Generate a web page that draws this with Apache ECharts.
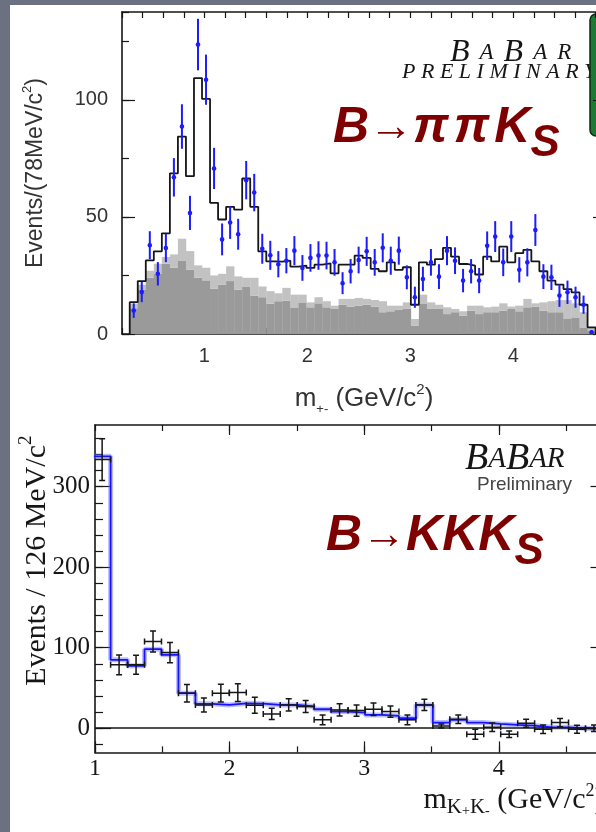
<!DOCTYPE html>
<html>
<head>
<meta charset="utf-8">
<script src="https://cdn.jsdelivr.net/npm/echarts@6/dist/echarts.min.js"></script>
<style>
  html, body { margin: 0; padding: 0; width: 596px; height: 832px; overflow: hidden; background: #6b7181; }
  #sheet { position: absolute; left: 10px; top: 5px; width: 600px; height: 840px; background: #ffffff; }
  /* drawing surface is a bit wider than the window so the frames can run past the right edge */
  #chart { position: absolute; left: 0; top: 0; width: 640px; height: 832px; }
</style>
</head>
<body>
<div id="sheet"></div>
<div id="chart"></div>
<script>
// ---------- B -> pi pi Ks : m(+-) spectrum, 78 MeV bins ----------
const pipiFirstEdge = 0.275;   // GeV/c^2
const pipiBinWidth = 0.078;    // GeV/c^2
// total fit (black histogram)
const pipiFit = [13.6,22.6,31.4,35.3,43,68.6,84.3,67.4,109.3,100.4,56,48.9,54.3,53.1,66.4,54.3,35.3,31,30.9,31.3,
  28.8,29.2,28.2,29.6,30.2,25.9,29.6,29.6,33.5,32.5,27.8,26.8,30.6,27.4,28.5,12.5,30.6,29.6,32,36.8,
  33,29.9,29.2,25.4,33,31,37.3,30.6,34.5,35.9,31,26.8,22.8,21.1,19.2,17.8,12.5,2.8];
// data points and their errors (blue)
const pipiData = [10,17.9,37.9,25.7,36.7,66.9,88.6,51.7,123.6,108.6,70.7,40.4,47.6,42.6,65.7,60.4,36.4,33.6,29.8,31.3,
  35.6,28.2,32.5,33.5,33.5,30.6,21.7,26.8,31.6,35.3,30.6,36.8,31.3,35.6,24.2,15.7,23.5,30.6,24.5,35.6,
  31.3,22.8,26.8,22.8,37.7,41.6,30.6,41.6,27.4,30.6,44.4,24.5,24.2,16.4,17.8,15.7,12.5,0.7];
const pipiErr = [3.1,4.3,6,5,6,8.2,9.5,7.3,11,10.7,8.8,6.8,7,6.6,8.2,8,6.4,6.2,5.6,5.4,
  6.2,5.5,5.9,6.1,5.9,5.7,4.7,5.2,5.7,6.2,5.7,6.2,6,6,5.1,4.5,5.2,5.7,5.3,6.2,
  5.7,5,5.2,5.4,6.1,6.6,5.9,6.6,5.4,6,6.8,5.3,5.4,4.8,5,4.5,3.9,1];
// background components: continuum (dark) and continuum + B background (light, stacked total)
const pipiContinuum = [11,19,24,25.7,30,28.3,31.4,27.4,24,22.9,19.3,21.1,22.6,18.9,20.3,16.4,15.7,12.9,14,14.2,
  11.1,13.5,11.4,13.1,11.4,10.7,12.5,11.7,12.1,12.5,11.7,9.3,9.7,10.3,10.7,3.6,12.8,10.7,10.7,8.5,
  9.3,7.8,10,8.5,9.3,9.3,10,10.7,9.7,11.4,11.7,10,9.3,9.3,6.4,7.1,2.8,1.5];
const pipiBkgTotal = [13,21,27,30,32.9,34,40.7,35.4,29.3,28.3,25,25.7,28.9,24.6,24,24,20.3,18.3,17.4,19.7,
  16.8,16.8,13.5,15.7,14,12.1,15,15,15.4,15,14.5,14,12.1,12.1,13.5,6.4,16.8,13.5,12.5,11.4,
  10.7,9.7,12.1,12.1,11.4,11.7,13.1,11.7,12.1,15,13.1,13.5,14,14.5,14.5,13.1,9.3,2.8];
const pipiXLabels = [1, 2, 3, 4];
const pipiXMajorTicks = [1, 2, 3, 4];
const pipiYLabels = [0, 50, 100];
const pipiYMajorTicks = [0, 50, 100];

// ---------- B -> K K Ks : m(K+K-) spectrum, 126 MeV bins ----------
const kkFirstEdge = 0.99;
const kkBinWidth = 0.126;
const kkFit = [337.7,85,77.5,98.2,91.2,43.5,30.3,29,31,30.5,29,29,27,23.6,20.7,19.5,16.6,15.3,12.4,29,
  7,10.4,7,5.4,4.1,3.3,1.2,1.2,0,-1];
const kkData = [333.6,78.7,78.7,107.7,94,43.5,29,43.5,44.3,28.5,17.8,29,27,10.4,22.8,22,23.6,20.7,10.4,29,
  2.9,11.2,-7.5,1.2,-7.5,6.2,-1.2,7,-1.2,0];
const kkErr = [26,12.4,11.8,13,12.6,10.8,8.7,11,11,10,7,7.7,7.3,6,7.5,7,7.7,7,6,7,
  2.5,5.2,6.2,5.2,4.1,5,5.2,5.2,5,4];
const kkXLabels = [1, 2, 3, 4];
const kkXMajorTicks = [1, 2, 3, 4];
const kkXTopMajorTicks = [2, 3, 4];
const kkYLabels = [0, 100, 200, 300];
const kkYMajorTicks = [0, 100, 200, 300];
const kkYMinorTicks = [-20,0,20,40,60,80,100,120,140,160,180,200,220,240,260,280,300,320,340,360];

const SANS = 'Liberation Sans, Arial, sans-serif';
const SERIF = 'Liberation Serif, Times New Roman, serif';
const INK = '#161616';

// ---------- derived drawing data ----------
function stepPath(firstEdge, width, values, closeToZero) {
  const pts = [];
  if (closeToZero) pts.push([firstEdge, 0]);
  values.forEach((v, k) => pts.push([firstEdge + k * width, v]));
  const last = firstEdge + values.length * width;
  pts.push([last, closeToZero ? 0 : values[values.length - 1]]);
  return pts;
}
const pipiHist = stepPath(pipiFirstEdge, pipiBinWidth, pipiFit, true);
const pipiBkg = pipiContinuum.map((g, k) => [pipiFirstEdge + k * pipiBinWidth, g, pipiBkgTotal[k]]);
const pipiPoints = pipiData.map((v, k) => [pipiFirstEdge + (k + 0.5) * pipiBinWidth, v, pipiErr[k]]);
const kkLine = stepPath(kkFirstEdge, kkBinWidth, kkFit, false);
const kkPoints = kkData.map((v, k) => [kkFirstEdge + (k + 0.5) * kkBinWidth, v, kkErr[k]]);

// ---------- axes ----------
const frameLine = { show: true, onZero: false, lineStyle: { color: INK, width: 1.6 } };
function axis(gridIndex, position, min, max, cfg) {
  return Object.assign({
    type: 'value', gridIndex, position, min, max,
    splitLine: { show: false },
    axisLine: { show: false, onZero: false },
    axisTick: { show: false },
    axisLabel: { show: false },
    nameMoveOverlap: false
  }, cfg);
}
function ticks(length, extra) {
  return Object.assign({ show: true, inside: true, length, lineStyle: { color: INK, width: 1.2 } }, extra || {});
}

const xAxes = [
  // top panel
  axis(0, 'bottom', 0.2, 4.9, {
    interval: 0.2, axisLine: frameLine, axisTick: ticks(6),
    axisLabel: { show: true, customValues: pipiXLabels, fontFamily: SANS, fontSize: 20, color: '#333', margin: 12 },
    name: '{a|m}{s|+-}{a| (GeV/c}{p|2}{a|)}', nameLocation: 'middle', nameGap: 48,
    nameTextStyle: {
      fontFamily: SANS, fontSize: 26, color: '#333',
      rich: {
        a: { fontFamily: SANS, fontSize: 26, color: '#333', lineHeight: 34, verticalAlign: 'middle' },
        s: { fontFamily: SANS, fontSize: 13, color: '#333', lineHeight: 12, verticalAlign: 'bottom' },
        p: { fontFamily: SANS, fontSize: 15, color: '#333', lineHeight: 14, verticalAlign: 'top' }
      }
    }
  }),
  axis(0, 'bottom', 0.2, 4.9, { axisTick: ticks(11, { customValues: pipiXMajorTicks }) }),
  axis(0, 'top', 0.2, 4.9, { interval: 0.2, axisLine: frameLine, axisTick: ticks(6) }),
  // bottom panel
  axis(1, 'bottom', 1, 4.8, {
    interval: 0.5, axisLine: frameLine, axisTick: ticks(6),
    axisLabel: { show: true, customValues: kkXLabels, fontFamily: SERIF, fontSize: 24, color: INK, margin: 4 },
    name: '{a|m}{s|K}{t|+}{s|K}{t|-}{a| (GeV/c}{p|2}{a|)}', nameLocation: 'end', nameGap: -2,
    nameTextStyle: {
      fontFamily: SERIF, fontSize: 30, color: INK, align: 'right', verticalAlign: 'top', padding: [30, 0, 0, 0],
      rich: {
        a: { fontFamily: SERIF, fontSize: 30, color: INK, lineHeight: 36, verticalAlign: 'middle' },
        s: { fontFamily: SERIF, fontSize: 21, color: INK, lineHeight: 16, verticalAlign: 'bottom' },
        t: { fontFamily: SERIF, fontSize: 14, color: INK, lineHeight: 26, verticalAlign: 'bottom' },
        p: { fontFamily: SERIF, fontSize: 18, color: INK, lineHeight: 16, verticalAlign: 'top' }
      }
    }
  }),
  axis(1, 'bottom', 1, 4.8, { axisTick: ticks(11, { customValues: kkXMajorTicks }) }),
  axis(1, 'top', 1, 4.8, { interval: 0.5, axisLine: frameLine, axisTick: ticks(6) }),
  axis(1, 'top', 1, 4.8, { axisTick: ticks(10, { customValues: kkXTopMajorTicks }) })
];

const yAxes = [
  // top panel
  axis(0, 'left', 0, 137.5, {
    interval: 25, axisLine: frameLine, axisTick: ticks(7),
    axisLabel: { show: true, customValues: pipiYLabels, fontFamily: SANS, fontSize: 20, color: '#333', margin: 14 },
    name: '{a|Events/(78MeV/c}{p|2}{a|)}', nameLocation: 'middle', nameGap: 71,
    nameTextStyle: {
      fontFamily: SANS, fontSize: 23, color: '#333',
      rich: {
        a: { fontFamily: SANS, fontSize: 23, color: '#333', lineHeight: 30, verticalAlign: 'middle' },
        p: { fontFamily: SANS, fontSize: 13, color: '#333', lineHeight: 13, verticalAlign: 'top' }
      }
    }
  }),
  axis(0, 'left', 0, 137.5, { axisTick: ticks(13, { customValues: pipiYMajorTicks }) }),
  axis(0, 'right', 0, 137.5, { interval: 25, axisLine: frameLine, axisTick: ticks(7) }),
  axis(0, 'right', 0, 137.5, { axisTick: ticks(13, { customValues: pipiYMajorTicks }) }),
  // bottom panel
  axis(1, 'left', -30, 376.6, {
    axisLine: frameLine, axisTick: ticks(8, { customValues: kkYMinorTicks }),
    axisLabel: { show: true, customValues: kkYLabels, fontFamily: SERIF, fontSize: 25, color: INK, margin: 5, padding: [10, 0, 0, 0] },
    name: '{a|Events / 126 MeV/c}{p|2}', nameLocation: 'middle', nameGap: 38,
    nameTextStyle: {
      fontFamily: SERIF, fontSize: 30, color: INK, padding: [0, 0, 0, 56],
      rich: {
        a: { fontFamily: SERIF, fontSize: 30, color: INK, lineHeight: 40, verticalAlign: 'middle' },
        p: { fontFamily: SERIF, fontSize: 19, color: INK, lineHeight: 22, verticalAlign: 'top' }
      }
    }
  }),
  axis(1, 'left', -30, 376.6, { axisTick: ticks(16, { customValues: kkYMajorTicks }) }),
  axis(1, 'right', -30, 376.6, { axisLine: frameLine, axisTick: ticks(8, { customValues: kkYMinorTicks }) }),
  axis(1, 'right', -30, 376.6, { axisTick: ticks(16, { customValues: kkYMajorTicks }) })
];

// ---------- custom renderers ----------
function renderBkg(params, api) {
  const lo = api.value(0), hi = lo + pipiBinWidth;
  const base = api.coord([lo, 0]);
  const cont = api.coord([hi, api.value(1)]);
  const tot = api.coord([hi, api.value(2)]);
  const w = cont[0] - base[0];
  return {
    type: 'group',
    children: [
      { type: 'rect', shape: { x: base[0], y: cont[1], width: w + 0.3, height: base[1] - cont[1] }, style: { fill: '#9a9a9a' } },
      { type: 'rect', shape: { x: base[0], y: tot[1], width: w + 0.3, height: cont[1] - tot[1] }, style: { fill: '#c2c2c2' } }
    ]
  };
}
function renderBluePoint(params, api) {
  const x = api.value(0), y = api.value(1), e = api.value(2);
  const c = api.coord([x, y]);
  const top = api.coord([x, y + e]);
  const bot = api.coord([x, y - e]);
  const col = '#1c1cff';
  return {
    type: 'group',
    children: [
      { type: 'line', shape: { x1: c[0], y1: top[1], x2: c[0], y2: bot[1] }, style: { stroke: col, lineWidth: 2 } },
      { type: 'circle', shape: { cx: c[0], cy: c[1], r: 2.3 }, style: { fill: col } }
    ]
  };
}
function renderCross(params, api) {
  const x = api.value(0), y = api.value(1), e = api.value(2);
  const hw = kkBinWidth / 2;
  const c = api.coord([x, y]);
  const l = api.coord([x - hw, y]);
  const r = api.coord([x + hw, y]);
  const t = api.coord([x, y + e]);
  const b = api.coord([x, y - e]);
  const cap = 3;
  const st = { stroke: INK, lineWidth: 1.5 };
  const seg = (x1, y1, x2, y2) => ({ type: 'line', shape: { x1, y1, x2, y2 }, style: st });
  return {
    type: 'group',
    children: [
      seg(l[0], c[1], r[0], c[1]),
      seg(c[0], t[1], c[0], b[1]),
      seg(c[0] - cap, t[1], c[0] + cap, t[1]),
      seg(c[0] - cap, b[1], c[0] + cap, b[1]),
      seg(l[0], c[1] - cap, l[0], c[1] + cap),
      seg(r[0], c[1] - cap, r[0], c[1] + cap)
    ]
  };
}

// ---------- chart ----------
const chart = echarts.init(document.getElementById('chart'), null, { renderer: 'canvas' });
chart.setOption({
  animation: false,
  backgroundColor: 'transparent',
  grid: [
    { left: 122, top: 12, width: 484, height: 322, containLabel: false },
    { left: 95, top: 425, width: 511.5, height: 327.4, containLabel: false }
  ],
  xAxis: xAxes,
  yAxis: yAxes,
  series: [
    { type: 'custom', xAxisIndex: 0, yAxisIndex: 0, data: pipiBkg, renderItem: renderBkg, clip: true, z: 1, silent: true },
    { type: 'line', xAxisIndex: 0, yAxisIndex: 0, data: pipiHist, step: 'end', symbol: 'none',
      lineStyle: { color: INK, width: 1.8 }, z: 3, silent: true },
    { type: 'custom', xAxisIndex: 0, yAxisIndex: 0, data: pipiPoints, renderItem: renderBluePoint, clip: true, z: 4, silent: true },

    { type: 'line', xAxisIndex: 3, yAxisIndex: 4, data: kkLine, step: 'end', symbol: 'none',
      lineStyle: { color: 'rgba(110,110,255,0.45)', width: 5 }, z: 2, silent: true,
      markLine: { silent: true, symbol: 'none', label: { show: false },
        lineStyle: { color: INK, width: 1.5, type: 'solid' }, data: [{ yAxis: 0 }] } },
    { type: 'line', xAxisIndex: 3, yAxisIndex: 4, data: kkLine, step: 'end', symbol: 'none',
      lineStyle: { color: '#1414ff', width: 1.8 }, z: 3, silent: true },
    { type: 'custom', xAxisIndex: 3, yAxisIndex: 4, data: kkPoints, renderItem: renderCross, clip: true, z: 4, silent: true }
  ],
  graphic: [
    // experiment logo, top panel
    { type: 'text', x: 450, y: 53, silent: true, style: {
        text: '{B|B}{A|A}{B|B}{A|A}{A|R}', verticalAlign: 'middle',
        rich: {
          B: { fontFamily: SERIF, fontStyle: 'italic', fontSize: 32, fill: INK, padding: [0, 10, 0, 0] },
          A: { fontFamily: SERIF, fontStyle: 'italic', fontSize: 23, fill: INK, padding: [0, 10, 0, 0] }
        } } },
    { type: 'text', x: 402, y: 72, silent: true, style: {
        text: 'P R E L I M I N A R Y', fontFamily: SERIF, fontStyle: 'italic', fontSize: 22, fill: INK, verticalAlign: 'middle' } },
    { type: 'rect', silent: true, shape: { x: 590, y: 14, width: 16, height: 122, r: 6 },
      style: { fill: '#1d7a33', stroke: '#0b2a12', lineWidth: 1.5 } },
    // decay channel, top panel
    { type: 'text', x: 333, y: 128, silent: true, style: {
        text: '{b|B}{a|→}{p|π}{p|π}{b|K}{s|S}', verticalAlign: 'middle',
        rich: {
          b: { fontFamily: SANS, fontWeight: 'bold', fontStyle: 'italic', fontSize: 50, fill: '#7f0000', lineHeight: 75, verticalAlign: 'middle' },
          p: { fontFamily: SANS, fontWeight: 'bold', fontStyle: 'italic', fontSize: 50, fill: '#7f0000', lineHeight: 75, verticalAlign: 'middle', padding: [0, 5, 0, 0] },
          a: { fontFamily: SANS, fontSize: 44, fill: '#7f0000', lineHeight: 75, verticalAlign: 'middle' },
          s: { fontFamily: SANS, fontWeight: 'bold', fontStyle: 'italic', fontSize: 44, fill: '#7f0000', lineHeight: 44, verticalAlign: 'bottom' }
        } } },
    // experiment logo, bottom panel
    { type: 'text', x: 465, y: 459, silent: true, style: {
        text: '{B|B}{A|A}{B|B}{A|A}{A|R}', verticalAlign: 'middle',
        rich: {
          B: { fontFamily: SERIF, fontStyle: 'italic', fontSize: 38, fill: INK },
          A: { fontFamily: SERIF, fontStyle: 'italic', fontSize: 29, fill: INK }
        } } },
    { type: 'text', x: 572, y: 485, silent: true, style: {
        text: 'Preliminary', fontFamily: SANS, fontSize: 19, fill: '#444', align: 'right', verticalAlign: 'middle' } },
    // decay channel, bottom panel
    { type: 'text', x: 326, y: 536, silent: true, style: {
        text: '{b|B}{a|→}{b|KKK}{s|S}', verticalAlign: 'middle',
        rich: {
          b: { fontFamily: SANS, fontWeight: 'bold', fontStyle: 'italic', fontSize: 50, fill: '#7f0000', lineHeight: 75, verticalAlign: 'middle' },
          a: { fontFamily: SANS, fontSize: 44, fill: '#7f0000', lineHeight: 75, verticalAlign: 'middle' },
          s: { fontFamily: SANS, fontWeight: 'bold', fontStyle: 'italic', fontSize: 44, fill: '#7f0000', lineHeight: 44, verticalAlign: 'bottom' }
        } } }
  ]
});
</script>
</body>
</html>
